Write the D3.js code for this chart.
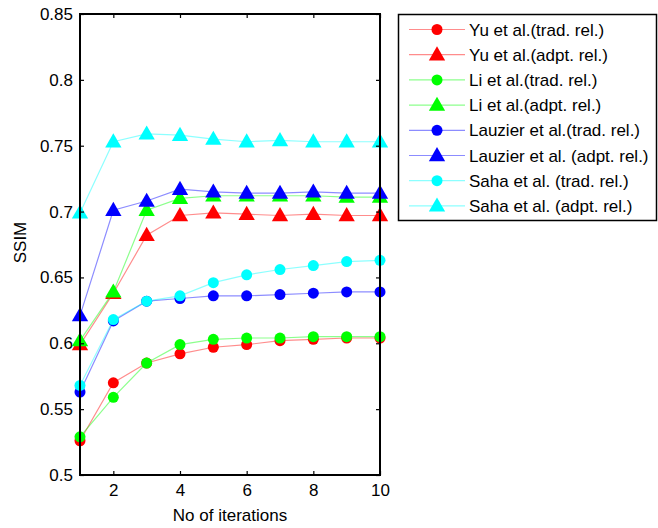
<!DOCTYPE html>
<html>
<head>
<meta charset="utf-8">
<script src="https://cdn.jsdelivr.net/npm/d3@7"></script>
<style>
  body { margin: 0; background: #fff; }
  svg { display: block; font-family: "Liberation Sans", Arial, sans-serif; }
</style>
</head>
<body>
<svg id="chart" width="658" height="528"></svg>
<script>
// Iteration counts on the x axis
const iterations = [1, 2, 3, 4, 5, 6, 7, 8, 9, 10];

// SSIM per iteration for each method / relaxation scheme
const yuTrad      = [0.526, 0.570, 0.585, 0.592, 0.597, 0.599, 0.602, 0.603, 0.604, 0.604];
const yuAdpt      = [0.599, 0.638, 0.682, 0.697, 0.699, 0.698, 0.697, 0.698, 0.697, 0.697];
const liTrad      = [0.529, 0.559, 0.585, 0.599, 0.603, 0.604, 0.604, 0.605, 0.605, 0.605];
const liAdpt      = [0.602, 0.639, 0.701, 0.710, 0.712, 0.712, 0.712, 0.712, 0.711, 0.711];
const lauzierTrad = [0.563, 0.617, 0.632, 0.634, 0.636, 0.636, 0.637, 0.638, 0.639, 0.639];
const lauzierAdpt = [0.621, 0.701, 0.708, 0.717, 0.715, 0.714, 0.714, 0.715, 0.714, 0.714];
const sahaTrad    = [0.568, 0.618, 0.632, 0.636, 0.646, 0.652, 0.656, 0.659, 0.662, 0.663];
const sahaAdpt    = [0.699, 0.753, 0.759, 0.758, 0.755, 0.753, 0.754, 0.753, 0.753, 0.753];

const seriesNames = [
  "Yu et al.(trad. rel.)", "Yu et al.(adpt. rel.)",
  "Li et al.(trad. rel.)", "Li et al.(adpt. rel.)",
  "Lauzier et al.(trad. rel.)", "Lauzier et al. (adpt. rel.)",
  "Saha et al. (trad. rel.)", "Saha et al. (adpt. rel.)"
];
const seriesValues = [yuTrad, yuAdpt, liTrad, liAdpt, lauzierTrad, lauzierAdpt, sahaTrad, sahaAdpt];
const seriesColors = ["#ff0000", "#ff0000", "#00ff00", "#00ff00", "#0000ff", "#0000ff", "#00ffff", "#00ffff"];
const seriesMarkers = ["circle", "triangle", "circle", "triangle", "circle", "triangle", "circle", "triangle"];

const xTicks = [2, 4, 6, 8, 10];
const yTicks = [0.5, 0.55, 0.6, 0.65, 0.7, 0.75, 0.8, 0.85];
const yTickLabels = ["0.5", "0.55", "0.6", "0.65", "0.7", "0.75", "0.8", "0.85"];

const FONT = 17;
const svg = d3.select("#chart");
const plot = { left: 80, right: 380, top: 14, bottom: 475 };

const x = d3.scaleLinear().domain([1, 10]).range([plot.left, plot.right]);
const y = d3.scaleLinear().domain([0.5, 0.85]).range([plot.bottom, plot.top]);

const circleSym = d3.symbol().type(d3.symbolCircle).size(95);
const triSym = d3.symbol().type(d3.symbolTriangle).size(115);
function markerPath(kind) { return kind === "circle" ? circleSym() : triSym(); }

// Series lines and markers, drawn in legend order
const layer = svg.append("g");
const line = d3.line().x((d, i) => x(iterations[i])).y(d => y(d));
seriesValues.forEach((vals, si) => {
  const g = layer.append("g");
  g.append("path")
    .attr("d", line(vals))
    .attr("fill", "none")
    .attr("stroke", seriesColors[si])
    .attr("stroke-opacity", 0.45)
    .attr("stroke-width", 1.2);
  g.selectAll("path.m").data(vals).enter().append("path")
    .attr("class", "m")
    .attr("d", markerPath(seriesMarkers[si]))
    .attr("transform", (d, i) => `translate(${x(iterations[i])},${y(d) + (seriesMarkers[si] === "triangle" ? 1 : 0)})`)
    .attr("fill", seriesColors[si]);
});

// Axes box with inward ticks on all four sides
const axisStyle = g => {
  g.select(".domain").remove();
  g.selectAll("line").attr("stroke", "#000").attr("stroke-width", 1.2);
  g.selectAll("text").attr("font-size", FONT).attr("fill", "#000");
};
svg.append("g").attr("transform", `translate(0,${plot.bottom})`)
  .call(d3.axisBottom(x).tickValues(xTicks).tickSize(-4).tickPadding(9).tickFormat(d3.format("d")))
  .call(axisStyle);
svg.append("g").attr("transform", `translate(0,${plot.top})`)
  .call(d3.axisTop(x).tickValues(xTicks).tickSize(-4).tickFormat(""))
  .call(axisStyle);
svg.append("g").attr("transform", `translate(${plot.left},0)`)
  .call(d3.axisLeft(y).tickValues(yTicks).tickSize(-4).tickPadding(7).tickFormat((d, i) => yTickLabels[i]))
  .call(axisStyle);
svg.append("g").attr("transform", `translate(${plot.right},0)`)
  .call(d3.axisRight(y).tickValues(yTicks).tickSize(-4).tickFormat(""))
  .call(axisStyle);

svg.append("rect")
  .attr("x", plot.left).attr("y", plot.top)
  .attr("width", plot.right - plot.left).attr("height", plot.bottom - plot.top)
  .attr("fill", "none").attr("stroke", "#000").attr("stroke-width", 2);

// Axis titles
svg.append("text")
  .attr("x", (plot.left + plot.right) / 2).attr("y", 521)
  .attr("text-anchor", "middle").attr("font-size", FONT)
  .text("No of iterations");
svg.append("text")
  .attr("transform", `translate(26,${(plot.top + plot.bottom) / 2 - 2}) rotate(-90)`)
  .attr("text-anchor", "middle").attr("font-size", FONT)
  .text("SSIM");

// Legend
const legend = svg.append("g");
legend.append("rect")
  .attr("x", 398.5).attr("y", 14.5).attr("width", 258).attr("height", 206)
  .attr("fill", "#fff").attr("stroke", "#000").attr("stroke-width", 1.5);
seriesNames.forEach((name, si) => {
  const cy = 29.5 + si * 25.2;
  const row = legend.append("g");
  row.append("line")
    .attr("x1", 409).attr("x2", 465).attr("y1", cy).attr("y2", cy)
    .attr("stroke", seriesColors[si]).attr("stroke-opacity", 0.45).attr("stroke-width", 1.2);
  row.append("path")
    .attr("d", markerPath(seriesMarkers[si]))
    .attr("transform", `translate(437,${cy + (seriesMarkers[si] === "triangle" ? 1 : 0)})`)
    .attr("fill", seriesColors[si]);
  row.append("text")
    .attr("x", 469).attr("y", cy + 6)
    .attr("font-size", FONT)
    .text(name);
});
</script>
</body>
</html>
